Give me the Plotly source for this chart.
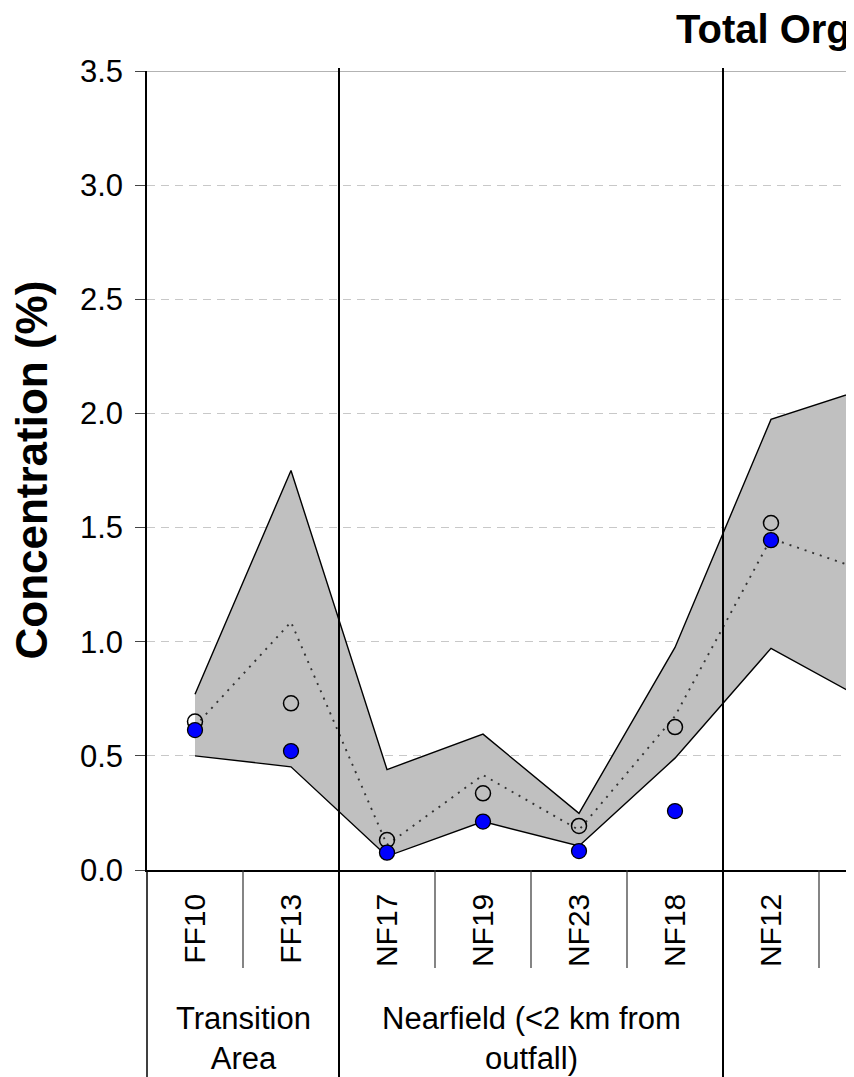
import plotly.graph_objects as go

# ---- data ----
stations = ["FF10", "FF13", "NF17", "NF19", "NF23", "NF18", "NF12"]
# band (upper / lower) and mean; the last value continues to the next (off-view) station
band_upper = [0.77, 1.75, 0.44, 0.595, 0.248, 0.975, 1.974, 2.11]
band_lower = [0.50, 0.452, 0.06, 0.212, 0.105, 0.49, 0.971, 0.74]
band_mean = [0.63, 1.086, 0.11, 0.416, 0.175, 0.674, 1.452, 1.308]
open_pts = [0.65, 0.73, 0.131, 0.336, 0.193, 0.626, 1.52]
blue_pts = [0.613, 0.521, 0.076, 0.212, 0.083, 0.258, 1.445]
groups = [("Transition<br>Area", 0, 1), ("Nearfield (<2 km from<br>outfall)", 2, 5)]
y_ticks = [0.0, 0.5, 1.0, 1.5, 2.0, 2.5, 3.0, 3.5]

OFF = 8  # default body margin of the html page
W, H = 854 - OFF, 1077 - OFF
L, T, B = 147 - OFF, 71 - OFF, 870 - OFF
PW, PH = W - L, B - T
FONT = "Liberation Sans, Arial, sans-serif"

def px_x(px):  # screen px -> paper
    return (px - OFF - L) / PW

def px_y(py):
    return (B - (py - OFF)) / PH

xs_band = list(range(len(band_upper)))
xs = list(range(len(stations)))

fig = go.Figure()
fig.add_trace(go.Scatter(
    x=xs_band + xs_band[::-1], y=band_upper + band_lower[::-1],
    mode="lines", fill="toself", fillcolor="#c0c0c0",
    line=dict(color="black", width=1.4), hoverinfo="skip", showlegend=False))
fig.add_trace(go.Scatter(
    x=xs_band, y=band_mean, mode="lines",
    line=dict(color="#333333", width=1.9, dash="2px,6px"),
    showlegend=False))
fig.add_trace(go.Scatter(
    x=xs, y=open_pts, mode="markers",
    marker=dict(symbol="circle-open", size=15, color="black", line=dict(width=1.5, color="black")),
    showlegend=False))
fig.add_trace(go.Scatter(
    x=xs, y=blue_pts, mode="markers",
    marker=dict(symbol="circle", size=15, color="#0000ff", line=dict(width=1.3, color="black")),
    showlegend=False))

shapes = []
shapes.append(dict(type="line", xref="paper", yref="y", x0=0, x1=1, y0=3.5, y1=3.5,
                   line=dict(color="#9a9a9a", width=1.5), layer="below"))
for i in range(len(stations)):
    bx = i + 0.5
    if bx in (1.5, 5.5):
        continue
    shapes.append(dict(type="line", xref="x", yref="paper", x0=bx, x1=bx,
                       y0=0, y1=px_y(968), line=dict(color="#333333", width=1.2)))
for bx in (1.5, 5.5):
    shapes.append(dict(type="line", xref="x", yref="paper", x0=bx, x1=bx,
                       y0=px_y(1080), y1=px_y(68), line=dict(color="black", width=2)))
shapes.append(dict(type="line", xref="paper", yref="paper", x0=0, x1=0,
                   y0=px_y(1080), y1=0, line=dict(color="black", width=1.5)))

annotations = []
for text, a, b in groups:
    annotations.append(dict(text=text, x=(a + b) / 2, xref="x", y=px_y(1038), yref="paper",
                            xanchor="center", yanchor="middle", showarrow=False,
                            font=dict(family=FONT, size=31, color="black")))
annotations.append(dict(text="Concentration (%)", textangle=-90, x=px_x(31), xref="paper",
                        y=0.5, yref="paper", xanchor="center", yanchor="middle", showarrow=False,
                        font=dict(family=FONT, size=44, color="black", weight="bold")))
annotations.append(dict(text="Total Organic Carbon", x=px_x(674), xref="paper", y=px_y(29),
                        yref="paper", xanchor="left", yanchor="middle", showarrow=False,
                        font=dict(family=FONT, size=40, color="black", weight="bold")))

fig.update_layout(
    width=W, height=H,
    margin=dict(l=L, r=0, t=T, b=H - B, pad=0),
    paper_bgcolor="white", plot_bgcolor="white",
    font=dict(family=FONT, color="black"),
    shapes=shapes, annotations=annotations,
    showlegend=False,
)
fig.update_xaxes(
    range=[-0.5, -0.5 + PW / 96.0], tickmode="array", tickvals=xs, ticktext=stations,
    tickangle=-90, ticks="", showgrid=False, zeroline=False,
    showline=True, linecolor="black", linewidth=1.5,
    tickfont=dict(family=FONT, size=30, color="black"), ticklabelstandoff=10,
)
fig.update_yaxes(
    range=[0, 3.5], tickmode="array", tickvals=y_ticks, ticktext=[f"{v:.1f}" for v in y_ticks],
    ticks="outside", ticklen=10, tickcolor="#444444", tickwidth=1,
    showgrid=True, gridcolor="#c8c8c8", gridwidth=1, griddash="8px,6px", zeroline=False,
    showline=True, linecolor="black", linewidth=1.5,
    tickfont=dict(family=FONT, size=31, color="black"), ticklabelstandoff=6,
)

fig.write_html("out.html", config={"displayModeBar": False})
